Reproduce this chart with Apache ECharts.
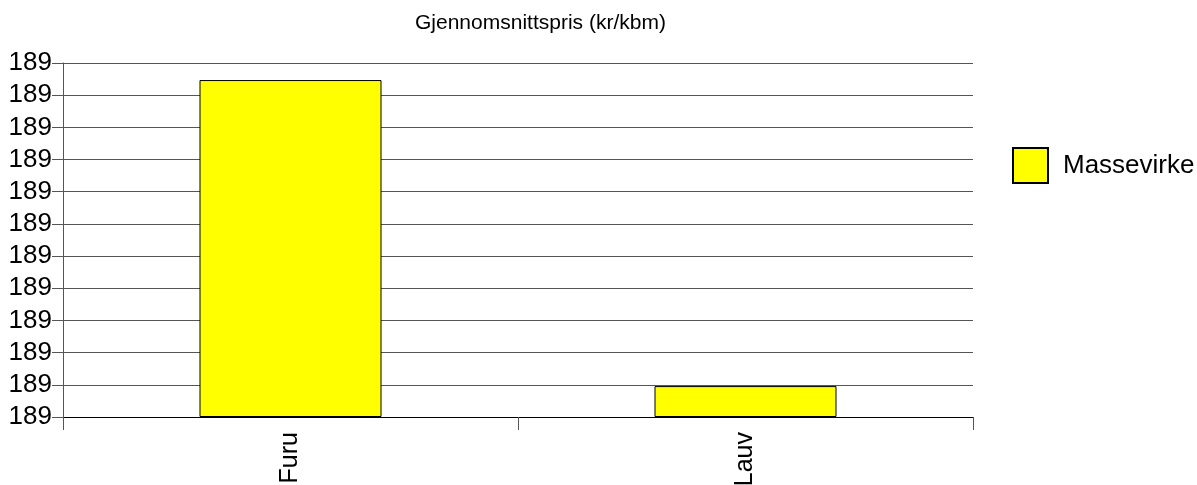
<!DOCTYPE html>
<html>
<head>
<meta charset="utf-8">
<script src="https://cdn.jsdelivr.net/npm/echarts@6/dist/echarts.min.js"></script>
<style>html,body{margin:0;padding:0;background:#fff}#c{width:1197px;height:485px}</style>
</head>
<body>
<div id="c"></div>
<script>
const titleText = 'Gjennomsnittspris (kr/kbm)';
const categories = ['Furu', 'Lauv'];
const seriesName = 'Massevirke';
const values = [10.47, 0.96];
const yTickLabels = ['189','189','189','189','189','189','189','189','189','189','189','189'];

const chart = echarts.init(document.getElementById('c'), null, {renderer: 'canvas'});
chart.setOption({
  animation: false,
  textStyle: {fontFamily: 'Liberation Sans, Arial, sans-serif'},
  title: {
    text: titleText, left: 410, top: 8,
    textStyle: {fontSize: 21, fontWeight: 'normal', color: '#000', fontFamily: 'Liberation Sans, Arial, sans-serif'}
  },
  legend: {
    left: 1012, top: 147, padding: 0,
    itemWidth: 35, itemHeight: 35,
    icon: 'rect',
    data: [seriesName],
    textStyle: {fontSize: 26, color: '#000', padding: [0, 0, 0, 10], fontFamily: 'Liberation Sans, Arial, sans-serif'}
  },
  grid: {left: 63, right: 224, top: 63, bottom: 68, containLabel: false, outerBoundsMode: 'none'},
  xAxis: {
    type: 'category', data: categories,
    axisLine: {show: true, lineStyle: {color: '#000', width: 1}},
    axisTick: {show: true, length: 13, alignWithLabel: false, lineStyle: {color: '#555'}},
    axisLabel: {rotate: 90, fontSize: 25, color: '#000', margin: 15}
  },
  yAxis: {
    type: 'value', min: 0, max: 11, interval: 1,
    axisLine: {show: true, lineStyle: {color: '#555', width: 1}},
    axisTick: {show: true, length: 11, lineStyle: {color: '#555'}},
    splitLine: {show: true, lineStyle: {color: '#555', width: 1}},
    axisLabel: {fontSize: 26, color: '#000', margin: 11, padding: [6, 0, 0, 0], formatter: (v, i) => yTickLabels[i]}
  },
  series: [{
    name: seriesName, type: 'bar', data: values, barWidth: '40%',
    itemStyle: {color: '#ffff00', borderColor: '#000', borderWidth: 1}
  }]
});
</script>
</body>
</html>
